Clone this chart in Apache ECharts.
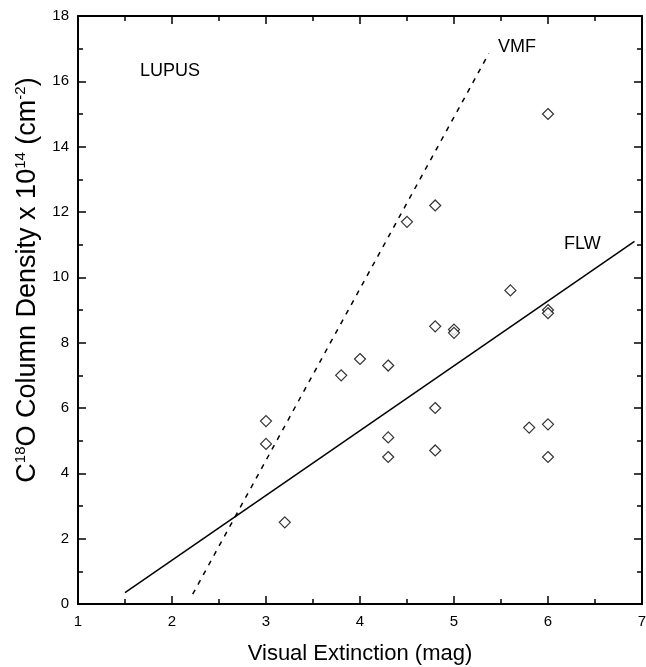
<!DOCTYPE html>
<html lang="en">
<head>
    <meta charset="UTF-8">
    <title>LUPUS C18O column density</title>
    <style>
        html, body { margin: 0; padding: 0; background: #fff; }
        #chart { width: 646px; height: 667px; }
    </style>
</head>
<body>
<div id="chart"></div>

<script src="https://cdn.jsdelivr.net/npm/echarts@6/dist/echarts.min.js"></script>
<script>
    // observed points: visual extinction (mag) vs C18O column density (1e14 cm^-2)
    const avValues = [3.0, 3.0, 3.2, 3.8, 4.0, 4.3, 4.3, 4.3, 4.5, 4.8, 4.8, 4.8, 4.8, 5.0, 5.0, 5.6, 5.8, 6.0, 6.0, 6.0, 6.0, 6.0];
    const nValues  = [5.6, 4.9, 2.5, 7.0, 7.5, 7.3, 5.1, 4.5, 11.7, 12.2, 8.5, 6.0, 4.7, 8.4, 8.3, 9.6, 5.4, 15.0, 9.0, 8.9, 5.5, 4.5];

    // relations drawn as lines (end points)
    const flwX = [1.5, 6.92];
    const flwY = [0.35, 11.1];
    const vmfX = [2.22, 5.37];
    const vmfY = [0.3, 16.85];

    const xTicks = [1, 2, 3, 4, 5, 6, 7];
    const yTicks = [0, 2, 4, 6, 8, 10, 12, 14, 16, 18];

    const font = 'Liberation Sans, Arial, Helvetica, sans-serif';
    const zip = (a, b) => a.map((v, i) => [v, b[i]]);

    const chart = echarts.init(document.querySelector('#chart'));

    const tickStyle = { color: '#000', width: 1.5 };
    function xAxis(pos, showLabel) {
        return {
            type: 'value', position: pos,
            min: xTicks[0], max: xTicks[xTicks.length - 1], interval: 1,
            axisLine: { show: true, onZero: false, lineStyle: { color: '#000', width: 2 } },
            axisTick: { show: true, inside: true, length: 8, lineStyle: tickStyle },
            minorTick: { show: true, splitNumber: 2, length: 5, lineStyle: tickStyle },
            splitLine: { show: false },
            axisLabel: { show: showLabel, color: '#000', fontSize: 15, fontFamily: font, margin: 10 }
        };
    }
    function yAxis(pos, showLabel) {
        return {
            type: 'value', position: pos,
            min: yTicks[0], max: yTicks[yTicks.length - 1], interval: 2,
            axisLine: { show: true, onZero: false, lineStyle: { color: '#000', width: 2 } },
            axisTick: { show: true, inside: true, length: 8, lineStyle: tickStyle },
            minorTick: { show: true, splitNumber: 2, length: 5, lineStyle: tickStyle },
            splitLine: { show: false },
            axisLabel: { show: showLabel, color: '#000', fontSize: 15, fontFamily: font, margin: 9 }
        };
    }

    const xBottom = Object.assign(xAxis('bottom', true), {
        name: 'Visual Extinction (mag)',
        nameLocation: 'middle',
        nameGap: 39,
        nameTextStyle: { color: '#000', fontSize: 22, fontFamily: font }
    });
    const yLeft = Object.assign(yAxis('left', true), {
        name: 'C{s|18}O Column Density x 10{s|14} (cm{s|-2})',
        nameLocation: 'middle',
        nameGap: 36,
        nameTextStyle: {
            color: '#000', fontSize: 27, fontFamily: font, lineHeight: 28,
            padding: [0, 0, 0, 60],
            rich: { s: { fontSize: 15, fontFamily: font, color: '#000', verticalAlign: 'top', lineHeight: 28 } }
        }
    });

    const option = {
        animation: false,
        backgroundColor: '#fff',
        grid: { left: 78, right: 4, top: 16, bottom: 63, outerBoundsMode: 'none', containLabel: false },
        xAxis: [xBottom, xAxis('top', false)],
        yAxis: [yLeft, yAxis('right', false)],
        graphic: [
            { type: 'text', left: 140, top: 62, style: { text: 'LUPUS', fontSize: 18, fontFamily: font, fill: '#000' } },
            { type: 'text', left: 498, top: 38, style: { text: 'VMF', fontSize: 18, fontFamily: font, fill: '#000' } },
            { type: 'text', left: 564, top: 235, style: { text: 'FLW', fontSize: 18, fontFamily: font, fill: '#000' } }
        ],
        series: [
            {
                name: 'FLW', type: 'line', data: zip(flwX, flwY),
                showSymbol: false, symbol: 'none',
                lineStyle: { color: '#000', width: 1.5 }
            },
            {
                name: 'VMF', type: 'line', data: zip(vmfX, vmfY),
                showSymbol: false, symbol: 'none',
                lineStyle: { color: '#000', width: 1.5, type: [5, 6] }
            },
            {
                name: 'LUPUS', type: 'scatter', data: zip(avValues, nValues),
                symbol: 'diamond', symbolSize: [11, 11],
                itemStyle: { color: '#fff', borderColor: '#000', borderWidth: 1.2 },
                z: 5
            }
        ]
    };

    chart.setOption(option);
</script>
</body>
</html>
